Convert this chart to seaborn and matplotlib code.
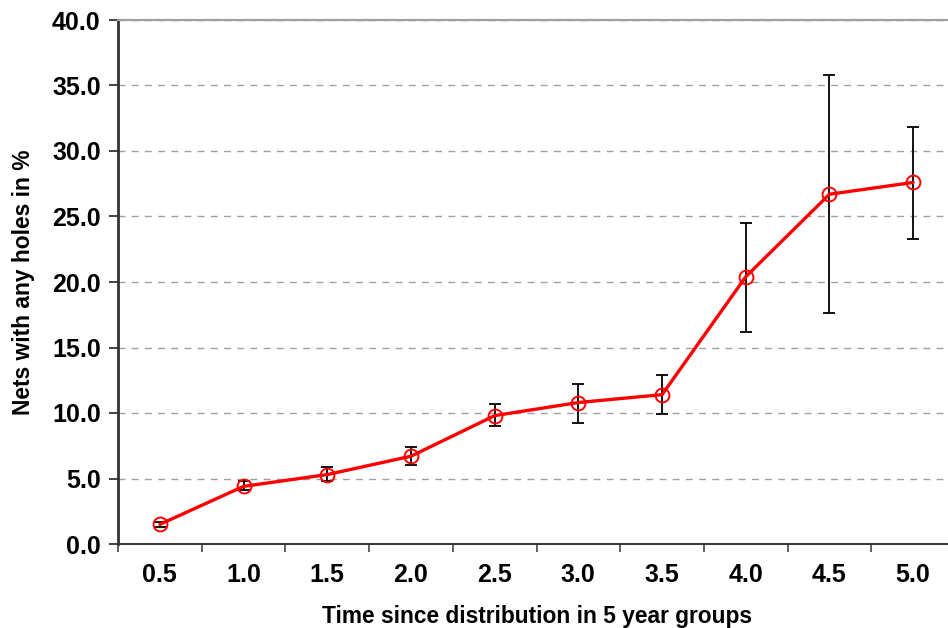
import numpy as np
import pandas as pd
import matplotlib
matplotlib.use("Agg")
import matplotlib.pyplot as plt
import seaborn as sns
from matplotlib.ticker import FixedLocator

# Share of nets with any holes, by time since distribution
groups = ["0.5", "1.0", "1.5", "2.0", "2.5", "3.0", "3.5", "4.0", "4.5", "5.0"]
pct_holes = [1.5, 4.4, 5.3, 6.7, 9.8, 10.8, 11.4, 20.4, 26.7, 27.6]
ci_low = [1.3, 4.1, 4.8, 6.0, 9.0, 9.2, 9.9, 16.2, 17.6, 23.3]
ci_high = [1.7, 4.8, 5.9, 7.4, 10.7, 12.2, 12.9, 24.5, 35.8, 31.8]
y_ticks = [0, 5, 10, 15, 20, 25, 30, 35, 40]

sns.set_theme(style="white")
plt.rcParams["font.family"] = ["Liberation Sans", "DejaVu Sans"]
plt.rcParams["text.color"] = "black"
plt.rcParams["axes.labelcolor"] = "black"
plt.rcParams["xtick.labelcolor"] = "black"
plt.rcParams["ytick.labelcolor"] = "black"

df = pd.DataFrame({"pos": np.arange(len(groups)), "pct": pct_holes,
                   "lo": ci_low, "hi": ci_high})

fig = plt.figure(figsize=(9.48, 6.28), dpi=100)
ax = fig.add_axes([118 / 948, 84 / 628, 837 / 948, 524 / 628])

# confidence intervals
yerr = np.vstack([df["pct"] - df["lo"], df["hi"] - df["pct"]])
ax.errorbar(df["pos"], df["pct"], yerr=yerr, fmt="none", ecolor="black",
            elinewidth=1.3, capsize=4.5, capthick=1.3, zorder=3)

sns.lineplot(data=df, x="pos", y="pct", ax=ax, color="#ff0000", linewidth=2.4,
             marker="o", markersize=10, markerfacecolor="none",
             markeredgecolor="#ff0000", markeredgewidth=1.4, zorder=4)

ax.set_xlim(-0.5, len(groups) - 0.5)
ax.set_ylim(0, 40)
ax.set_yticks(y_ticks)
ax.set_yticklabels([f"{v:.1f}" for v in y_ticks])
ax.set_xticks(df["pos"])
ax.set_xticklabels(groups)
ax.xaxis.set_minor_locator(FixedLocator(np.arange(-0.5, len(groups), 1.0)))

ax.yaxis.grid(True, linestyle=(0, (5, 4.5)), color="#a0a0a0", linewidth=1.0)
ax.set_axisbelow(True)

for side in ["left", "bottom"]:
    ax.spines[side].set_color("#333333")
ax.spines["left"].set_linewidth(2.0)
ax.spines["bottom"].set_linewidth(1.4)
ax.spines["top"].set_color("#a0a0a0")
ax.spines["top"].set_linewidth(1.6)
ax.spines["right"].set_visible(False)

ax.tick_params(axis="y", which="major", direction="out", length=6.5, width=1.2,
               color="#222222", left=True, labelsize=18, pad=6)
ax.tick_params(axis="x", which="major", length=0, labelsize=18, pad=14)
ax.tick_params(axis="x", which="minor", direction="out", length=6, width=1.1,
               color="#333333", bottom=True)
for lbl in ax.get_xticklabels() + ax.get_yticklabels():
    lbl.set_fontweight("bold")

ax.set_xlabel("Time since distribution in 5 year groups", fontsize=16.4,
              fontweight="bold", labelpad=13)
ax.set_ylabel("Nets with any holes in %", fontsize=16.4, fontweight="bold",
              labelpad=12)

fig.savefig("out.png", dpi=100)
